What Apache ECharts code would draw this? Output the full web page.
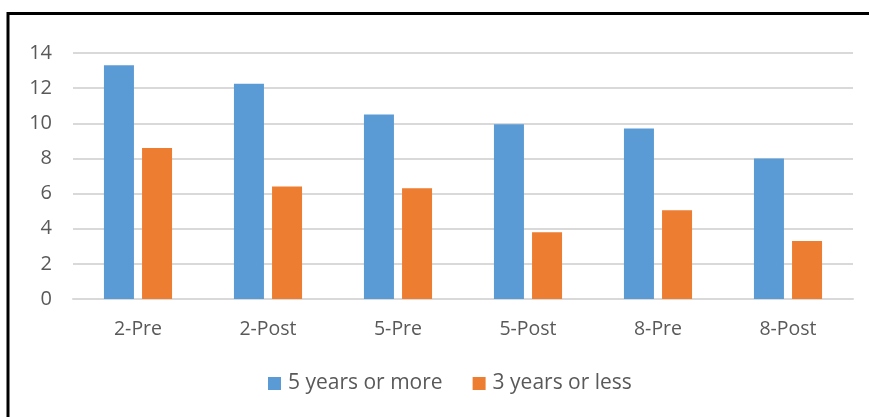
<!DOCTYPE html>
<html>
<head>
<meta charset="utf-8">
<style>
  html, body { margin: 0; padding: 0; background: #fff; }
  #chart { width: 869px; height: 417px; }
</style>
<script src="https://cdn.jsdelivr.net/npm/echarts@6/dist/echarts.min.js"></script>
</head>
<body>
<div id="chart"></div>
<script>
// Groups along the x axis
const categories = ['2-Pre', '2-Post', '5-Pre', '5-Post', '8-Pre', '8-Post'];
// Series values
const fiveOrMore = [13.3, 12.25, 10.5, 9.95, 9.7, 8.0];
const threeOrLess = [8.6, 6.4, 6.3, 3.8, 5.05, 3.3];
// Y axis range
const yMin = 0, yMax = 14, yStep = 2;

const textColor = '#595959';
const fontFamily = '"Open Sans", "Noto Sans", sans-serif';

const chart = echarts.init(document.getElementById('chart'), null, { renderer: 'canvas' });
chart.setOption({
  animation: false,
  backgroundColor: '#ffffff',
  textStyle: { fontFamily: fontFamily },
  graphic: [
    { type: 'line', shape: { x1: 8, y1: 12, x2: 8, y2: 417 }, style: { stroke: '#000', lineWidth: 3 } },
    { type: 'line', shape: { x1: 7, y1: 13.5, x2: 869, y2: 13.5 }, style: { stroke: '#000', lineWidth: 3 } }
  ],
  grid: { left: 73, right: 16, top: 53, bottom: 118, containLabel: false },
  legend: {
    top: 373,
    left: 268,
    padding: 0,
    itemWidth: 13,
    itemHeight: 13,
    itemGap: 30,
    icon: 'rect',
    textStyle: { color: textColor, fontSize: 21, fontFamily: fontFamily, padding: [0, 0, 0, 2] },
    data: ['5 years or more', '3 years or less']
  },
  xAxis: {
    type: 'category',
    data: categories,
    axisLine: { show: true, lineStyle: { color: '#d9d9d9', width: 2 } },
    axisTick: { show: false },
    axisLabel: { color: textColor, fontSize: 19.5, margin: 20, fontFamily: fontFamily }
  },
  yAxis: {
    type: 'value',
    min: yMin,
    max: yMax,
    interval: yStep,
    axisLine: { show: false },
    axisTick: { show: false },
    axisLabel: { color: textColor, fontSize: 20, margin: 21, fontFamily: fontFamily },
    splitLine: { lineStyle: { color: '#d9d9d9', width: 2 } }
  },
  series: [
    {
      name: '5 years or more',
      type: 'bar',
      data: fiveOrMore,
      barWidth: 30,
      barGap: '27%',
      itemStyle: { color: '#5b9bd5' }
    },
    {
      name: '3 years or less',
      type: 'bar',
      data: threeOrLess,
      barWidth: 30,
      barGap: '27%',
      itemStyle: { color: '#ed7d31' }
    }
  ]
});
</script>
</body>
</html>
